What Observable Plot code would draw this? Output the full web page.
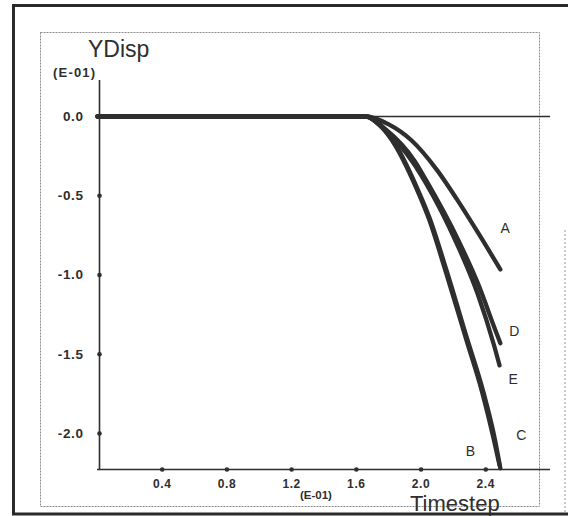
<!DOCTYPE html>
<html>
<head>
<meta charset="utf-8">
<script src="https://cdn.jsdelivr.net/npm/d3@7"></script>
<script src="https://cdn.jsdelivr.net/npm/@observablehq/plot@0.6"></script>
<style>
  html, body { margin: 0; padding: 0; background: #fff; }
  #chart svg { display: block; }
</style>
</head>
<body>
<div id="chart"></div>
<script>
// ---- data ----
const seriesNames = ["A", "B", "C", "D", "E"];
const xA = [0, 0.8, 1.66, 1.8, 1.94, 2.1, 2.22, 2.35, 2.49];
const yA = [0, 0, 0, -0.05, -0.15, -0.34, -0.52, -0.73, -0.965];
const xB = [0, 0.8, 1.66, 1.75, 1.82, 1.97, 2.05, 2.15, 2.28, 2.375, 2.45, 2.485];
const yB = [0, 0, 0, -0.06, -0.15, -0.45, -0.65, -0.97, -1.41, -1.73, -2.04, -2.2];
const xC = [0, 0.8, 1.66, 1.75, 1.825, 1.975, 2.056, 2.157, 2.287, 2.383, 2.457, 2.49];
const yC = [0, 0, 0, -0.06, -0.15, -0.45, -0.65, -0.97, -1.41, -1.73, -2.04, -2.22];
const xD = [0, 0.8, 1.66, 1.78, 1.96, 2.03, 2.23, 2.35, 2.46, 2.49];
const yD = [0, 0, 0, -0.08, -0.28, -0.40, -0.78, -1.05, -1.35, -1.43];
const xE = [0, 0.8, 1.66, 1.77, 1.95, 2.03, 2.22, 2.35, 2.45, 2.485];
const yE = [0, 0, 0, -0.08, -0.29, -0.42, -0.80, -1.12, -1.44, -1.57];

const labelNames = ["A", "D", "E", "C", "B"];
const labelX = [2.52, 2.577, 2.57, 2.62, 2.305];
const labelY = [-0.707, -1.356, -1.66, -2.01, -2.114];

const xTicks = [0.4, 0.8, 1.2, 1.6, 2.0, 2.4];
const yTicks = [0, -0.5, -1.0, -1.5, -2.0];
const xDomain = [0, 2.8];
const yDomain = [-2.227, 0.227];

// ---- build table ----
const xs = [xA, xB, xC, xD, xE];
const ys = [yA, yB, yC, yD, yE];
const rows = [];
seriesNames.forEach((s, i) => xs[i].forEach((x, j) => rows.push({series: s, t: x, v: ys[i][j]})));
const labels = labelNames.map((n, i) => ({name: n, t: labelX[i], v: labelY[i]}));

const font = "'Liberation Sans', Arial, Helvetica, sans-serif";
const ink = "#2e2e2e";
const fmt = d => d.toFixed(1);

const chart = Plot.plot({
  width: 568,
  height: 516,
  marginLeft: 97,
  marginRight: 18,
  marginTop: 80,
  marginBottom: 47,
  style: {fontFamily: font, background: "#fff", color: ink},
  x: {domain: xDomain, axis: null},
  y: {domain: yDomain, axis: null},
  marks: [
    // axis lines
    Plot.ruleX([0], {x1: 0, y1: yDomain[0], y2: yDomain[1], stroke: ink, strokeWidth: 1.6, dx: 2}),
    Plot.ruleY([yDomain[0]], {y: d => d, x1: 0, x2: xDomain[1], stroke: ink, strokeWidth: 1.4}),
    Plot.ruleY([0], {y: d => d, x1: 0, x2: xDomain[1], stroke: ink, strokeWidth: 1.3}),
    // tick dots
    Plot.dot(xTicks, {x: d => d, y: () => yDomain[0], r: 2.3, fill: ink, stroke: null}),
    Plot.dot(yTicks, {x: () => 0, y: d => d, r: 2.3, fill: ink, stroke: null, dx: 2}),
    // tick labels (x, then y)
    Plot.text(xTicks, {x: d => d, frameAnchor: "bottom", lineAnchor: "top", dy: 10, text: fmt,
      fontWeight: "bold", fontSize: 12, fill: ink}),
    Plot.text(yTicks, {y: d => d, frameAnchor: "left", textAnchor: "end", lineAnchor: "middle", dx: -14, text: fmt,
      fontWeight: "bold", fontSize: 13.5, fill: ink}),
    // series
    Plot.line(rows, {x: "t", y: "v", z: "series", stroke: ink, strokeWidth: 4.3,
      curve: "monotone-x", strokeLinecap: "round", strokeLinejoin: "round"}),
    // series labels
    Plot.text(labels, {x: "t", y: "v", text: "name", fontSize: 14, fill: ink})
  ]
});

const svg = d3.select(chart);
// enforce text sizes explicitly
const textGroups = svg.selectAll("g[aria-label='text']").nodes();
const sizes = ["12px", "13.5px", "14px"];
textGroups.forEach((g, i) => {
  d3.select(g).selectAll("text")
    .style("font-size", sizes[i] || "12px")
    .style("font-family", font)
    .attr("letter-spacing", i < 2 ? 0.6 : 0);
});
// outer and inner frames
svg.insert("rect", ":first-child")
  .attr("x", 40.5).attr("y", 32.5).attr("width", 499).attr("height", 474)
  .attr("fill", "none").attr("stroke", "#8a8a8a").attr("stroke-width", 1).attr("stroke-dasharray", "2,1");
svg.append("path")
  .attr("d", "M568,5.5 H13.5 V514 H568")
  .attr("fill", "none").attr("stroke", "#2a2a2a").attr("stroke-width", 3);
svg.append("line")
  .attr("x1", 565).attr("x2", 565).attr("y1", 230).attr("y2", 514)
  .attr("stroke", "#999").attr("stroke-width", 1).attr("stroke-dasharray", "2,2");
// titles
const addText = (txt, x, y, size, weight, spacing) => svg.append("text")
  .attr("x", x).attr("y", y).style("font-size", size + "px").attr("font-weight", weight)
  .attr("text-anchor", "start").attr("letter-spacing", spacing || 0)
  .style("font-family", font).attr("fill", ink).text(txt);
addText("YDisp", 88, 57, 23, "normal");
addText("(E-01)", 53, 77, 13, "bold", 1.2);
addText("Timestep", 410, 511, 22, "normal");
addText("(E-01)", 300, 499, 11.5, "bold");

document.getElementById("chart").appendChild(chart);
</script>
</body>
</html>
